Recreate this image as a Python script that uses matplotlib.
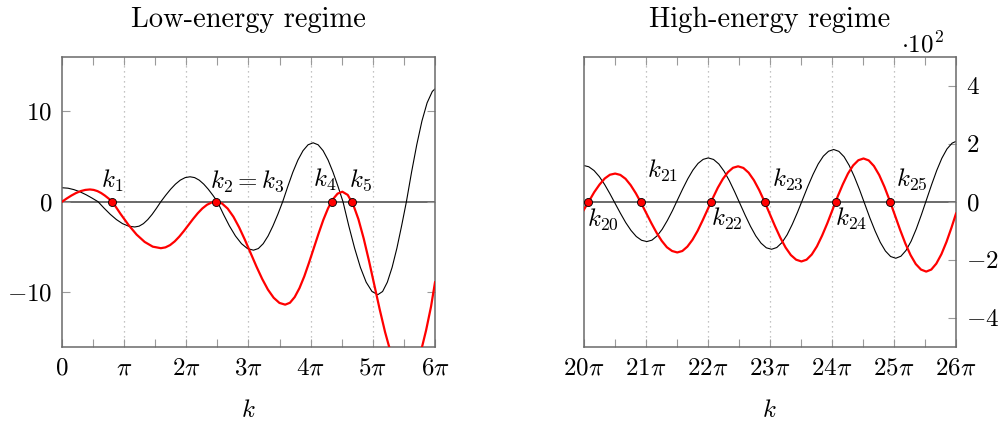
import matplotlib
matplotlib.use('Agg')
import matplotlib.pyplot as plt
from matplotlib.ticker import MultipleLocator

plt.rcParams['mathtext.fontset'] = 'cm'
plt.rcParams['font.family'] = ['cmr10', 'DejaVu Serif']
plt.rcParams['axes.formatter.use_mathtext'] = True
plt.rcParams['axes.unicode_minus'] = False

# ---------------- data (x in units of pi) ----------------
low_k_black = [0, 0.097, 0.193, 0.29, 0.387, 0.483, 0.58,
               0.678, 0.777, 0.875, 0.973, 1.072, 1.17,
               1.24, 1.31, 1.38, 1.45, 1.52, 1.59,
               1.668, 1.747, 1.825, 1.903, 1.982, 2.06,
               2.133, 2.207, 2.28, 2.353, 2.427, 2.50,
               2.597, 2.693, 2.79, 2.887, 2.983, 3.08,
               3.158, 3.237, 3.315, 3.393, 3.472, 3.55,
               3.632, 3.713, 3.795, 3.877, 3.958, 4.04,
               4.12, 4.20, 4.28, 4.36, 4.44, 4.52,
               4.613, 4.707, 4.80, 4.893, 4.987, 5.08,
               5.157, 5.233, 5.31, 5.387, 5.463, 5.54,
               5.623, 5.707, 5.79, 5.873, 5.957, 6.0]
low_black = [1.54, 1.49, 1.33, 1.09, 0.77, 0.40, 0,
             -0.72, -1.395, -1.97, -2.42, -2.70, -2.79,
             -2.70, -2.42, -1.97, -1.395, -0.72, 0,
             0.71, 1.375, 1.94, 2.38, 2.66, 2.75,
             2.66, 2.38, 1.94, 1.375, 0.71, 0,
             -1.39, -2.675, -3.78, -4.63, -5.17, -5.35,
             -5.17, -4.63, -3.78, -2.675, -1.39, 0,
             1.68, 3.25, 4.60, 5.63, 6.28, 6.5,
             6.28, 5.63, 4.60, 3.25, 1.68, 0,
             -2.66, -5.13, -7.25, -8.885, -9.91, -10.26,
             -9.91, -8.885, -7.25, -5.13, -2.66, 0,
             3.26, 6.30, 8.91, 10.91, 12.17, 12.45]

low_k_red = [0, 0.075, 0.15, 0.225, 0.30, 0.375, 0.45,
             0.51, 0.57, 0.63, 0.69, 0.75, 0.81,
             0.94, 1.07, 1.20, 1.33, 1.46, 1.59,
             1.664, 1.738, 1.813, 1.887, 1.961, 2.035, 2.109, 2.183, 2.257, 2.332, 2.406, 2.48,
             2.5725, 2.665, 2.7575, 2.85, 2.9425, 3.035, 3.1275, 3.22, 3.3125, 3.405, 3.4975, 3.59,
             3.667, 3.743, 3.82, 3.897, 3.973, 4.05, 4.127, 4.203, 4.28, 4.357, 4.433, 4.51,
             4.596, 4.682, 4.768, 4.853, 4.939, 5.025, 5.111, 5.197, 5.283, 5.368, 5.454, 5.54,
             5.619, 5.698, 5.778, 5.857, 5.936, 6.0]
low_red = [0, 0.35, 0.675, 0.955, 1.17, 1.30, 1.35,
           1.30, 1.17, 0.955, 0.675, 0.35, 0,
           -1.33, -2.565, -3.63, -4.44, -4.96, -5.13,
           -5.04, -4.79, -4.38, -3.85, -3.23, -2.565, -1.90, -1.28, -0.75, -0.34, -0.09, 0,
           -0.19, -0.76, -1.66, -2.84, -4.21, -5.68, -7.15, -8.52, -9.70, -10.60, -11.17, -11.36,
           -11.15, -10.525, -9.535, -8.245, -6.74, -5.13, -3.52, -2.015, -0.725, 0.265, 0.89, 1.1,
           0.75, -0.28, -1.925, -4.06, -6.55, -9.225, -11.90, -14.39, -16.525, -18.17, -19.20, -19.55,
           -19.18, -18.11, -16.40, -14.18, -11.58, -8.9]

# high-energy values in units of 10^2
high_k_black = [20.0, 20.085, 20.17, 20.255, 20.34, 20.425, 20.51, 20.595, 20.68, 20.765, 20.85, 20.935, 21.02,
                21.1025, 21.185, 21.2675, 21.35, 21.4325, 21.515, 21.5975, 21.68, 21.7625, 21.845, 21.9275, 22.01,
                22.095, 22.18, 22.265, 22.35, 22.435, 22.52, 22.605, 22.69, 22.775, 22.86, 22.945, 23.03,
                23.113, 23.197, 23.28, 23.363, 23.447, 23.53, 23.613, 23.697, 23.78, 23.863, 23.947, 24.03,
                24.113, 24.197, 24.28, 24.363, 24.447, 24.53, 24.613, 24.697, 24.78, 24.863, 24.947, 25.03,
                25.1125, 25.195, 25.2775, 25.36, 25.4425, 25.525, 25.6075, 25.69, 25.7725, 25.855, 25.9375, 26.0]
high_black = [1.25, 1.205, 1.074, 0.865, 0.594, 0.277, -0.0625, -0.40, -0.72, -0.99, -1.20, -1.33, -1.375,
              -1.326, -1.18, -0.95, -0.65, -0.31, 0.0675, 0.44, 0.79, 1.09, 1.32, 1.46, 1.51,
              1.456, 1.30, 1.05, 0.72, 0.34, -0.065, -0.47, -0.85, -1.18, -1.43, -1.59, -1.64,
              -1.58, -1.41, -1.14, -0.78, -0.365, 0.08, 0.525, 0.94, 1.30, 1.57, 1.74, 1.80,
              1.736, 1.55, 1.25, 0.86, 0.41, -0.075, -0.56, -1.01, -1.40, -1.70, -1.89, -1.95,
              -1.88, -1.68, -1.36, -0.94, -0.45, 0.07, 0.59, 1.08, 1.50, 1.82, 2.02, 2.08]

high_k_red = [20.0, 20.089, 20.173, 20.258, 20.342, 20.426, 20.51,
              20.593, 20.677, 20.76, 20.843, 20.927, 21.01, 21.093, 21.177, 21.26, 21.343, 21.427, 21.51,
              21.592, 21.673, 21.755, 21.837, 21.918, 22.0, 22.082, 22.163, 22.245, 22.327, 22.408, 22.49,
              22.575, 22.66, 22.745, 22.83, 22.915, 23.0, 23.085, 23.17, 23.255, 23.34, 23.425, 23.51,
              23.593, 23.677, 23.76, 23.843, 23.927, 24.01, 24.093, 24.177, 24.26, 24.343, 24.427, 24.51,
              24.594, 24.678, 24.763, 24.847, 24.931, 25.015, 25.099, 25.183, 25.268, 25.352, 25.436, 25.52,
              25.602, 25.683, 25.765, 25.847, 25.928, 26.0]
high_red = [-0.30, 0.02, 0.33, 0.59, 0.80, 0.93, 0.97,
            0.924, 0.79, 0.57, 0.29, -0.04, -0.39, -0.74, -1.07, -1.35, -1.57, -1.70, -1.75,
            -1.70, -1.55, -1.315, -1.01, -0.65, -0.265, 0.12, 0.48, 0.785, 1.02, 1.17, 1.22,
            1.164, 1.00, 0.74, 0.40, 0.005, -0.42, -0.845, -1.24, -1.58, -1.84, -2.00, -2.06,
            -2.00, -1.82, -1.54, -1.17, -0.745, -0.285, 0.175, 0.60, 0.97, 1.25, 1.43, 1.49,
            1.424, 1.23, 0.92, 0.515, 0.045, -0.46, -0.965, -1.435, -1.84, -2.15, -2.34, -2.41,
            -2.34, -2.135, -1.81, -1.385, -0.89, -0.41]

low_roots = [0.81, 2.48, 4.34, 4.67]
low_root_labels = [r'$k_1$', r'$k_2 = k_3$', r'$k_4$', r'$k_5$']
high_roots = [20.08, 20.92, 22.06, 22.93, 24.06, 24.94]
high_root_labels = [r'$k_{20}$', r'$k_{21}$', r'$k_{22}$', r'$k_{23}$', r'$k_{24}$', r'$k_{25}$']

low_xticks = [0, 1, 2, 3, 4, 5, 6]
low_xticklabels = [r'$0$', r'$\pi$', r'$2\pi$', r'$3\pi$', r'$4\pi$', r'$5\pi$', r'$6\pi$']
high_xticks = [20, 21, 22, 23, 24, 25, 26]
high_xticklabels = [r'$20\pi$', r'$21\pi$', r'$22\pi$', r'$23\pi$', r'$24\pi$', r'$25\pi$', r'$26\pi$']
low_yticks = [-10, 0, 10]
low_yticklabels = [r'$-10$', r'$0$', r'$10$']
high_yticks = [-4, -2, 0, 2, 4]
high_yticklabels = [r'$-4$', r'$-2$', r'$0$', r'$2$', r'$4$']

# ---------------- styling ----------------
FS = 18
SPINE = '#6a6a6a'
TICK = '#9a9a9a'
GRID = '#b0b0b0'

fig = plt.figure(figsize=(10.03, 4.25), dpi=100)
bottom = 1 - 346.7 / 425
height = 290 / 425
ax1 = fig.add_axes([62 / 1003, bottom, 373 / 1003, height])
ax2 = fig.add_axes([583.5 / 1003, bottom, 372.5 / 1003, height])


def style(ax, xticks, xlabels, yticks, ylabels, xlim, ylim, right_labels):
    ax.set_xlim(*xlim)
    ax.set_ylim(*ylim)
    ax.set_xticks(xticks)
    ax.set_xticklabels(xlabels, fontsize=FS)
    ax.xaxis.set_minor_locator(MultipleLocator(0.5))
    ax.set_yticks(yticks)
    ax.set_yticklabels(ylabels, fontsize=FS)
    for sp in ax.spines.values():
        sp.set_color(SPINE)
        sp.set_linewidth(1.1)
    ax.tick_params(axis='x', which='both', direction='in', top=True, bottom=True,
                   length=5.5, width=0.8, color=TICK, pad=8)
    if right_labels:
        ax.yaxis.tick_right()
        ax.tick_params(axis='y', which='both', direction='in', left=False, right=True,
                       labelleft=False, labelright=True, length=5.5, width=0.8, color=TICK, pad=7)
    else:
        ax.tick_params(axis='y', which='both', direction='in', left=True, right=True,
                       labelright=False, length=5.5, width=0.8, color=TICK, pad=7)
    for xt in xticks[1:-1]:
        ax.axvline(xt, color=GRID, lw=0.9, ls=(0, (1, 3)), zorder=0)
    ax.axhline(0, color=SPINE, lw=1.4, zorder=1)
    ax.set_xlabel(r'$k$', fontsize=FS)
    ax.xaxis.set_label_coords(0.5, -0.182)


style(ax1, low_xticks, low_xticklabels, low_yticks, low_yticklabels, (0, 6), (-16, 16), False)
style(ax2, high_xticks, high_xticklabels, high_yticks, high_yticklabels, (20, 26), (-5, 5), True)

ax1.plot(low_k_black, low_black, color='black', lw=0.8, zorder=2)
ax1.plot(low_k_red, low_red, color='red', lw=1.6, zorder=3)
ax1.plot(low_roots, [0] * len(low_roots), 'o', ms=5.8, mfc='red', mec='black', mew=0.6, zorder=4)

ax2.plot(high_k_black, high_black, color='black', lw=0.8, zorder=2)
ax2.plot(high_k_red, high_red, color='red', lw=1.6, zorder=3)
ax2.plot(high_roots, [0] * len(high_roots), 'o', ms=5.8, mfc='red', mec='black', mew=0.6,
         zorder=4, clip_on=False)

low_label_pos = [(0.80, 1.55, 'center'), (2.38, 1.55, 'left'), (4.03, 1.6, 'left'), (4.61, 1.6, 'left')]
for (x, y, ha), lab in zip(low_label_pos, low_root_labels):
    ax1.text(x, y, lab, fontsize=FS, ha=ha, va='baseline', zorder=5)

high_label_pos = [(20.05, -0.84), (21.02, 0.82), (22.05, -0.84), (23.04, 0.54), (24.05, -0.84), (25.03, 0.54)]
for (x, y), lab in zip(high_label_pos, high_root_labels):
    ax2.text(x, y, lab, fontsize=FS, ha='left', va='baseline', zorder=5)

ax1.set_title('Low-energy regime', fontsize=20.5, pad=21.6)
ax2.set_title('High-energy regime', fontsize=20.5, pad=21.6)
ax2.text(0.911, 1.016, r'$\cdot 10^2$', transform=ax2.transAxes, fontsize=FS,
         ha='center', va='baseline')

fig.savefig('out.png', dpi=100)
